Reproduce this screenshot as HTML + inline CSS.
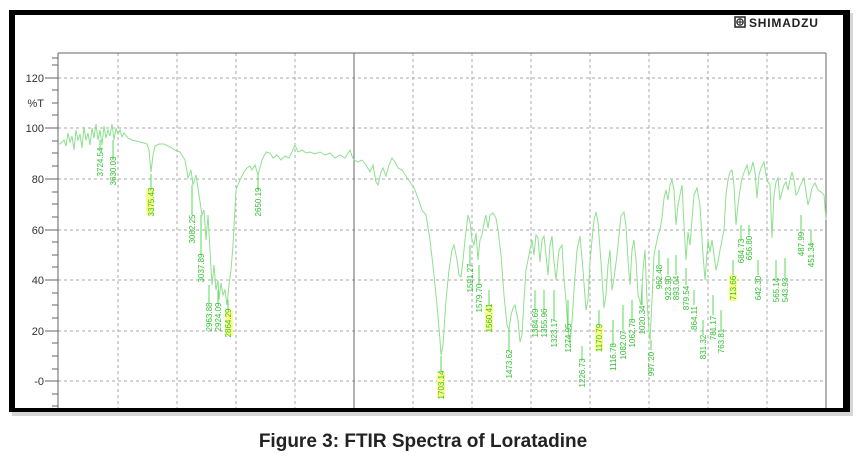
<!DOCTYPE html>
<html><head><meta charset="utf-8"><style>
html,body{margin:0;padding:0;background:#fff;width:860px;height:465px;overflow:hidden}
svg{display:block}
</style></head><body>
<svg width="860" height="465" viewBox="0 0 860 465" xmlns="http://www.w3.org/2000/svg" font-family="Liberation Sans, sans-serif">
<rect x="12" y="13" width="841" height="403" fill="#bbb" opacity="0.6"/>
<rect x="9" y="10" width="841" height="402" fill="#000"/>
<rect x="15" y="15" width="828" height="393" fill="#fff"/>
<text x="749" y="27" font-size="12" font-weight="bold" fill="#222" letter-spacing="0.8">SHIMADZU</text>
<rect x="735" y="17" width="10" height="10" fill="none" stroke="#222" stroke-width="1.5"/>
<circle cx="740" cy="22" r="3.2" fill="none" stroke="#222" stroke-width="1.2"/>
<line x1="740" y1="18.5" x2="740" y2="25.5" stroke="#222" stroke-width="1"/>
<line x1="736.5" y1="22" x2="743.5" y2="22" stroke="#222" stroke-width="1"/>
<g stroke="#aaa" stroke-width="1" stroke-dasharray="3,3">
<line x1="118" y1="53" x2="118" y2="408"/><line x1="177" y1="53" x2="177" y2="408"/><line x1="236" y1="53" x2="236" y2="408"/><line x1="295" y1="53" x2="295" y2="408"/>
<line x1="413" y1="53" x2="413" y2="408"/><line x1="472" y1="53" x2="472" y2="408"/><line x1="531" y1="53" x2="531" y2="408"/><line x1="590" y1="53" x2="590" y2="408"/><line x1="649" y1="53" x2="649" y2="408"/><line x1="708" y1="53" x2="708" y2="408"/><line x1="767" y1="53" x2="767" y2="408"/>
<line x1="58" y1="78" x2="826" y2="78"/><line x1="58" y1="128" x2="826" y2="128"/><line x1="58" y1="179" x2="826" y2="179"/><line x1="58" y1="230" x2="826" y2="230"/><line x1="58" y1="280" x2="826" y2="280"/><line x1="58" y1="331" x2="826" y2="331"/><line x1="58" y1="381" x2="826" y2="381"/>
</g>
<g stroke="#666" stroke-width="1">
<line x1="58" y1="53" x2="826" y2="53"/>
<line x1="58" y1="53" x2="58" y2="408"/>
<line x1="354" y1="53" x2="354" y2="408"/>
<line x1="826" y1="53" x2="826" y2="408"/>
</g>
<g stroke="#666" stroke-width="1">
<line x1="45" y1="78" x2="58" y2="78"/><line x1="45" y1="128" x2="58" y2="128"/><line x1="45" y1="179" x2="58" y2="179"/><line x1="45" y1="230" x2="58" y2="230"/><line x1="45" y1="280" x2="58" y2="280"/><line x1="45" y1="331" x2="58" y2="331"/><line x1="45" y1="381" x2="58" y2="381"/>
<line x1="52" y1="58" x2="58" y2="58"/><line x1="52" y1="65" x2="58" y2="65"/><line x1="52" y1="90" x2="58" y2="90"/><line x1="52" y1="103" x2="58" y2="103"/><line x1="52" y1="115" x2="58" y2="115"/><line x1="52" y1="141" x2="58" y2="141"/><line x1="52" y1="153" x2="58" y2="153"/><line x1="52" y1="166" x2="58" y2="166"/><line x1="52" y1="192" x2="58" y2="192"/><line x1="52" y1="204" x2="58" y2="204"/><line x1="52" y1="217" x2="58" y2="217"/><line x1="52" y1="242" x2="58" y2="242"/><line x1="52" y1="255" x2="58" y2="255"/><line x1="52" y1="267" x2="58" y2="267"/><line x1="52" y1="293" x2="58" y2="293"/><line x1="52" y1="305" x2="58" y2="305"/><line x1="52" y1="318" x2="58" y2="318"/><line x1="52" y1="343" x2="58" y2="343"/><line x1="52" y1="356" x2="58" y2="356"/><line x1="52" y1="369" x2="58" y2="369"/><line x1="52" y1="394" x2="58" y2="394"/><line x1="52" y1="406" x2="58" y2="406"/>
</g>
<g font-size="11" fill="#333" text-anchor="end">
<text x="44" y="82">120</text><text x="44" y="132">100</text><text x="44" y="183">80</text><text x="44" y="234">60</text><text x="44" y="284">40</text><text x="44" y="335">20</text><text x="44" y="385">-0</text>
<text x="44" y="107">%T</text>
</g>
<polyline fill="none" stroke="#8ee08e" stroke-width="1" points="58,145 61,143 64,140 66,146 68,133 70,142 72,136 74,150 76,130 78,140 80,134 82,148 84,127 86,140 88,133 90,145 92,128 94,138 96,124 98,140 100,130 102,145 104,126 106,138 108,130 110,136 112,124 114,140 116,128 118,134 120,130 122,137 124,133 128,138 132,140 136,141 140,142 144,143 147,144 149,150 151,172 153,155 155,146 159,144 164,144 170,147 175,150 180,152 185,160 188,178 191,170 193,185 196,175 199,195 202,215 204,210 206,240 208,215 210,250 212,285 214,265 216,290 218,280 219,300 221,283 223,295 225,290 227,305 229,285 231,270 233,245 236,190 240,180 244,172 247,168 250,166 252,170 255,165 258,175 262,160 266,152 270,153 273,158 277,155 281,160 285,156 289,158 292,152 295,145 298,152 302,150 306,153 310,152 315,154 320,152 325,155 330,153 335,158 340,155 345,158 350,150 352,156 354,160 358,162 362,160 366,165 370,172 373,165 376,182 378,185 381,172 383,168 386,176 389,165 392,158 395,162 398,168 402,170 406,176 410,182 414,188 418,198 422,210 426,215 430,240 434,275 437,305 440,340 441,355 443,345 446,300 449,270 452,250 454,245 457,260 459,275 461,277 463,260 465,240 468,215 470,222 472,240 474,245 476,233 478,260 480,240 482,235 484,223 486,215 488,228 490,215 493,213 496,218 498,230 501,255 504,295 507,325 509,330 511,315 513,308 515,305 518,320 520,342 522,335 524,300 526,270 529,255 532,240 534,255 536,235 538,238 540,262 542,240 544,236 546,255 548,275 550,245 552,236 554,262 556,280 559,250 562,245 564,280 566,300 568,330 570,345 572,322 574,290 577,250 580,236 583,270 586,310 588,300 590,262 592,240 594,220 596,212 598,222 601,262 604,308 606,295 608,265 610,250 612,290 614,278 617,255 619,235 621,216 624,212 626,226 628,260 630,285 632,250 634,240 636,260 638,295 641,305 643,270 645,250 647,300 649,332 650,340 652,300 654,255 656,245 658,235 660,230 662,218 664,198 666,190 668,200 670,185 672,180 674,190 676,225 678,205 680,195 682,185 684,225 686,260 688,232 690,245 692,220 694,195 697,188 700,205 703,255 705,280 708,240 710,252 712,240 714,255 716,270 718,262 720,250 722,240 724,230 726,195 728,180 730,172 732,170 734,185 736,225 738,205 740,190 742,178 745,170 747,165 749,175 751,170 753,162 755,172 757,198 759,175 761,168 764,162 766,175 768,182 770,185 772,238 774,195 776,182 778,178 780,200 782,192 784,185 786,182 788,190 790,180 792,172 794,180 796,195 798,192 800,186 802,182 804,178 806,192 808,205 810,198 812,188 815,183 818,190 821,192 824,195 826,220"/>
<g stroke="#5ad85a" stroke-width="1">
<line x1="100" y1="140" x2="100" y2="150"/><line x1="113" y1="140" x2="113" y2="160"/><line x1="151" y1="174" x2="151" y2="190"/><line x1="192" y1="185" x2="192" y2="215"/><line x1="201" y1="215" x2="201" y2="255"/><line x1="209" y1="285" x2="209" y2="303"/><line x1="218" y1="290" x2="218" y2="303"/><line x1="228" y1="300" x2="228" y2="310"/><line x1="258" y1="175" x2="258" y2="190"/>
<line x1="441" y1="356" x2="441" y2="373"/><line x1="470" y1="245" x2="470" y2="265"/><line x1="479" y1="265" x2="479" y2="285"/><line x1="489" y1="290" x2="489" y2="305"/><line x1="509" y1="330" x2="509" y2="352"/><line x1="535" y1="290" x2="535" y2="310"/><line x1="544" y1="290" x2="544" y2="310"/><line x1="554" y1="290" x2="554" y2="320"/><line x1="568" y1="300" x2="568" y2="325"/><line x1="582" y1="346" x2="582" y2="360"/><line x1="599" y1="310" x2="599" y2="325"/><line x1="613" y1="320" x2="613" y2="345"/><line x1="623" y1="305" x2="623" y2="330"/><line x1="632" y1="300" x2="632" y2="320"/><line x1="642" y1="285" x2="642" y2="305"/><line x1="651" y1="340" x2="651" y2="350"/><line x1="659" y1="250" x2="659" y2="265"/><line x1="668" y1="258" x2="668" y2="275"/><line x1="676" y1="255" x2="676" y2="275"/><line x1="686" y1="268" x2="686" y2="285"/><line x1="694" y1="290" x2="694" y2="305"/><line x1="703" y1="320" x2="703" y2="335"/><line x1="713" y1="295" x2="713" y2="315"/><line x1="721" y1="310" x2="721" y2="330"/><line x1="733" y1="260" x2="733" y2="275"/><line x1="741" y1="225" x2="741" y2="240"/><line x1="749" y1="225" x2="749" y2="235"/><line x1="758" y1="260" x2="758" y2="275"/><line x1="776" y1="260" x2="776" y2="278"/><line x1="785" y1="258" x2="785" y2="278"/><line x1="801" y1="215" x2="801" y2="232"/><line x1="811" y1="230" x2="811" y2="245"/>
</g>
<g font-size="8" fill="#2fc02f" text-anchor="middle">
<text transform="translate(103,162) rotate(-90)">3724.54</text>
<text transform="translate(116,171) rotate(-90)">3630.03</text>
<rect x="146" y="189" width="8" height="26" fill="#ffff88"/><text transform="translate(154,202) rotate(-90)">3375.43</text>
<text transform="translate(195,229) rotate(-90)">3082.25</text>
<text transform="translate(204,268) rotate(-90)">3037.89</text>
<text transform="translate(212,317) rotate(-90)">2963.88</text>
<text transform="translate(221,317) rotate(-90)">2924.09</text>
<rect x="225" y="310" width="8" height="26" fill="#ffff88"/><text transform="translate(231,323) rotate(-90)">2864.29</text>
<text transform="translate(261,202) rotate(-90)">2650.19</text>
<rect x="437" y="372" width="8" height="26" fill="#ffff88"/><text transform="translate(444,385) rotate(-90)">1703.14</text>
<text transform="translate(473,278) rotate(-90)">1591.27</text>
<text transform="translate(482,298) rotate(-90)">1579.70</text>
<rect x="485" y="305" width="8" height="26" fill="#ffff88"/><text transform="translate(492,318) rotate(-90)">1560.41</text>
<text transform="translate(512,364) rotate(-90)">1473.62</text>
<text transform="translate(538,323) rotate(-90)">1384.69</text>
<text transform="translate(547,323) rotate(-90)">1355.96</text>
<text transform="translate(557,333) rotate(-90)">1323.17</text>
<text transform="translate(571,338) rotate(-90)">1274.95</text>
<text transform="translate(585,373) rotate(-90)">1226.73</text>
<rect x="595" y="325" width="8" height="26" fill="#ffff88"/><text transform="translate(602,338) rotate(-90)">1170.79</text>
<text transform="translate(616,357) rotate(-90)">1116.78</text>
<text transform="translate(626,345) rotate(-90)">1082.07</text>
<text transform="translate(635,333) rotate(-90)">1062.78</text>
<text transform="translate(645,320) rotate(-90)">1020.34</text>
<text transform="translate(654,364) rotate(-90)">997.20</text>
<text transform="translate(662,277) rotate(-90)">962.48</text>
<text transform="translate(671,288) rotate(-90)">923.90</text>
<text transform="translate(679,288) rotate(-90)">893.04</text>
<text transform="translate(689,298) rotate(-90)">879.54</text>
<text transform="translate(697,318) rotate(-90)">864.11</text>
<text transform="translate(706,347) rotate(-90)">831.32</text>
<text transform="translate(716,328) rotate(-90)">781.17</text>
<text transform="translate(724,341) rotate(-90)">763.81</text>
<rect x="729" y="275" width="8" height="26" fill="#ffff88"/><text transform="translate(736,288) rotate(-90)">713.66</text>
<text transform="translate(744,251) rotate(-90)">684.73</text>
<text transform="translate(752,248) rotate(-90)">656.80</text>
<text transform="translate(761,288) rotate(-90)">642.30</text>
<text transform="translate(779,290) rotate(-90)">565.14</text>
<text transform="translate(788,290) rotate(-90)">543.93</text>
<text transform="translate(804,244) rotate(-90)">487.99</text>
<text transform="translate(814,255) rotate(-90)">451.34</text>
</g>
<text x="423" y="447" font-size="19" font-weight="bold" text-anchor="middle" fill="#222">Figure 3: FTIR Spectra of Loratadine</text>
</svg>
</body></html>
